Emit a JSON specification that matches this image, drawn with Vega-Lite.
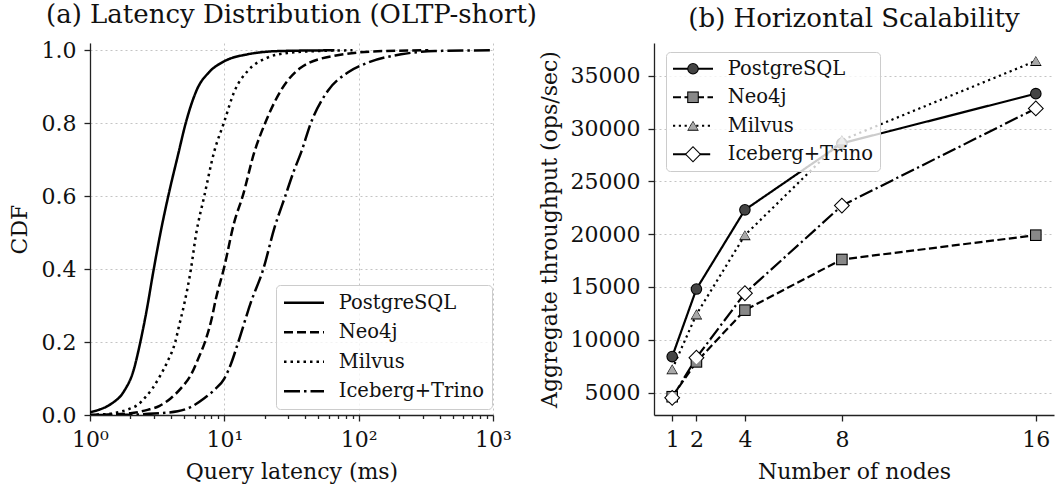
{
  "$schema": "https://vega.github.io/schema/vega-lite/v6.json",
  "padding": {"left": 8, "top": 2, "right": 5, "bottom": 5},
  "bounds": "flush",
  "spacing": 161,
  "background": "white",
  "resolve": {
    "scale": {"strokeDash": "independent", "shape": "independent", "fill": "independent"},
    "legend": {"strokeDash": "independent", "shape": "independent", "fill": "independent"}
  },
  "config": {
    "view": {"stroke": null},
    "font": "DejaVu Serif",
    "axis": {
      "labelFont": "DejaVu Serif", "titleFont": "DejaVu Serif",
      "labelFontSize": 22, "titleFontSize": 22, "titleFontWeight": "normal",
      "labelColor": "#111111", "titleColor": "#111111",
      "domainColor": "#222222", "tickColor": "#222222", "domainWidth": 1.3, "tickWidth": 1.3,
      "tickSize": 6, "labelPadding": 8,
      "gridColor": "#c4c4c4", "gridDash": [2, 3], "gridWidth": 1,
      "labelFlush": false, "labelOverlap": false
    },
    "title": {"font": "DejaVu Serif", "fontSize": 26, "fontWeight": "normal", "color": "#111111", "baseline": "alphabetic", "offset": 11, "anchor": "middle", "frame": "group"},
    "legend": {"labelFont": "DejaVu Serif", "labelFontSize": 19.5, "labelColor": "#111111"}
  },
  "hconcat": [
    {
      "width": 403,
      "height": 372,
      "title": "(a) Latency Distribution (OLTP-short)",
      "data": {"values": [
        {"system": "PostgreSQL", "latency": 1.0, "cdf": 0.008},
        {"system": "PostgreSQL", "latency": 1.2, "cdf": 0.016},
        {"system": "PostgreSQL", "latency": 1.43, "cdf": 0.03},
        {"system": "PostgreSQL", "latency": 1.79, "cdf": 0.065},
        {"system": "PostgreSQL", "latency": 2.1, "cdf": 0.12},
        {"system": "PostgreSQL", "latency": 2.37, "cdf": 0.2},
        {"system": "PostgreSQL", "latency": 2.65, "cdf": 0.29},
        {"system": "PostgreSQL", "latency": 2.95, "cdf": 0.39},
        {"system": "PostgreSQL", "latency": 3.35, "cdf": 0.5},
        {"system": "PostgreSQL", "latency": 3.85, "cdf": 0.605},
        {"system": "PostgreSQL", "latency": 4.5, "cdf": 0.71},
        {"system": "PostgreSQL", "latency": 5.2, "cdf": 0.805},
        {"system": "PostgreSQL", "latency": 6.3, "cdf": 0.895},
        {"system": "PostgreSQL", "latency": 7.7, "cdf": 0.94},
        {"system": "PostgreSQL", "latency": 10, "cdf": 0.97},
        {"system": "PostgreSQL", "latency": 14.9, "cdf": 0.989},
        {"system": "PostgreSQL", "latency": 26, "cdf": 0.998},
        {"system": "PostgreSQL", "latency": 66, "cdf": 1.0},
        {"system": "Neo4j", "latency": 1.0, "cdf": 0.0},
        {"system": "Neo4j", "latency": 2.0, "cdf": 0.005},
        {"system": "Neo4j", "latency": 2.68, "cdf": 0.014},
        {"system": "Neo4j", "latency": 3.3, "cdf": 0.025},
        {"system": "Neo4j", "latency": 4.0, "cdf": 0.046},
        {"system": "Neo4j", "latency": 4.8, "cdf": 0.075},
        {"system": "Neo4j", "latency": 5.64, "cdf": 0.11},
        {"system": "Neo4j", "latency": 6.4, "cdf": 0.155},
        {"system": "Neo4j", "latency": 7.17, "cdf": 0.2},
        {"system": "Neo4j", "latency": 8.0, "cdf": 0.26},
        {"system": "Neo4j", "latency": 8.67, "cdf": 0.32},
        {"system": "Neo4j", "latency": 9.9, "cdf": 0.4},
        {"system": "Neo4j", "latency": 11.9, "cdf": 0.531},
        {"system": "Neo4j", "latency": 13.7, "cdf": 0.6},
        {"system": "Neo4j", "latency": 16.7, "cdf": 0.72},
        {"system": "Neo4j", "latency": 20.1, "cdf": 0.8},
        {"system": "Neo4j", "latency": 26.4, "cdf": 0.89},
        {"system": "Neo4j", "latency": 37, "cdf": 0.952},
        {"system": "Neo4j", "latency": 66, "cdf": 0.985},
        {"system": "Neo4j", "latency": 155, "cdf": 0.998},
        {"system": "Neo4j", "latency": 330, "cdf": 1.0},
        {"system": "Milvus", "latency": 1.0, "cdf": 0.0},
        {"system": "Milvus", "latency": 1.5, "cdf": 0.005},
        {"system": "Milvus", "latency": 2.0, "cdf": 0.018},
        {"system": "Milvus", "latency": 2.25, "cdf": 0.027},
        {"system": "Milvus", "latency": 2.6, "cdf": 0.05},
        {"system": "Milvus", "latency": 2.92, "cdf": 0.073},
        {"system": "Milvus", "latency": 3.3, "cdf": 0.105},
        {"system": "Milvus", "latency": 3.78, "cdf": 0.147},
        {"system": "Milvus", "latency": 4.31, "cdf": 0.2},
        {"system": "Milvus", "latency": 4.62, "cdf": 0.247},
        {"system": "Milvus", "latency": 5.0, "cdf": 0.3},
        {"system": "Milvus", "latency": 5.64, "cdf": 0.4},
        {"system": "Milvus", "latency": 6.15, "cdf": 0.494},
        {"system": "Milvus", "latency": 7.09, "cdf": 0.6},
        {"system": "Milvus", "latency": 8.42, "cdf": 0.723},
        {"system": "Milvus", "latency": 9.9, "cdf": 0.8},
        {"system": "Milvus", "latency": 11.9, "cdf": 0.888},
        {"system": "Milvus", "latency": 14.9, "cdf": 0.943},
        {"system": "Milvus", "latency": 21, "cdf": 0.98},
        {"system": "Milvus", "latency": 30, "cdf": 0.993},
        {"system": "Milvus", "latency": 50, "cdf": 0.998},
        {"system": "Milvus", "latency": 90, "cdf": 1.0},
        {"system": "Iceberg+Trino", "latency": 1.0, "cdf": 0.0},
        {"system": "Iceberg+Trino", "latency": 2.0, "cdf": 0.001},
        {"system": "Iceberg+Trino", "latency": 3.0, "cdf": 0.004},
        {"system": "Iceberg+Trino", "latency": 4.49, "cdf": 0.01},
        {"system": "Iceberg+Trino", "latency": 5.5, "cdf": 0.02},
        {"system": "Iceberg+Trino", "latency": 7.09, "cdf": 0.046},
        {"system": "Iceberg+Trino", "latency": 8.5, "cdf": 0.07},
        {"system": "Iceberg+Trino", "latency": 10, "cdf": 0.1},
        {"system": "Iceberg+Trino", "latency": 11.2, "cdf": 0.14},
        {"system": "Iceberg+Trino", "latency": 12.7, "cdf": 0.2},
        {"system": "Iceberg+Trino", "latency": 15.8, "cdf": 0.31},
        {"system": "Iceberg+Trino", "latency": 19.5, "cdf": 0.4},
        {"system": "Iceberg+Trino", "latency": 23.6, "cdf": 0.513},
        {"system": "Iceberg+Trino", "latency": 28.4, "cdf": 0.6},
        {"system": "Iceberg+Trino", "latency": 33, "cdf": 0.67},
        {"system": "Iceberg+Trino", "latency": 37.3, "cdf": 0.72},
        {"system": "Iceberg+Trino", "latency": 44, "cdf": 0.8},
        {"system": "Iceberg+Trino", "latency": 59, "cdf": 0.889},
        {"system": "Iceberg+Trino", "latency": 83, "cdf": 0.939},
        {"system": "Iceberg+Trino", "latency": 117, "cdf": 0.966},
        {"system": "Iceberg+Trino", "latency": 207, "cdf": 0.989},
        {"system": "Iceberg+Trino", "latency": 370, "cdf": 0.998},
        {"system": "Iceberg+Trino", "latency": 1000, "cdf": 1.0}
      ]},
      "mark": {"type": "line", "strokeWidth": 2.5, "color": "black", "interpolate": "monotone", "clip": true},
      "encoding": {
        "x": {
          "field": "latency", "type": "quantitative",
          "scale": {"type": "log", "domain": [1, 1000], "nice": false},
          "axis": {
            "title": "Query latency (ms)",
            "values": [1,2,3,4,5,6,7,8,9,10,20,30,40,50,60,70,80,90,100,200,300,400,500,600,700,800,900,1000],
            "labelExpr": "datum.value == 1 ? '10⁰' : datum.value == 10 ? '10¹' : datum.value == 100 ? '10²' : datum.value == 1000 ? '10³' : ''",
            "tickSize": {"condition": {"test": "datum.value == 1 || datum.value == 10 || datum.value == 100 || datum.value == 1000", "value": 6}, "value": 3.5},
            "grid": true,
            "gridOpacity": {"condition": {"test": "datum.value == 1 || datum.value == 10 || datum.value == 100 || datum.value == 1000", "value": 1}, "value": 0},
            "titlePadding": 11
          }
        },
        "y": {
          "field": "cdf", "type": "quantitative",
          "scale": {"domain": [0, 1.02], "nice": false, "zero": false},
          "axis": {"title": "CDF", "values": [0, 0.2, 0.4, 0.6, 0.8, 1.0], "format": ".1f", "grid": true, "titlePadding": 10}
        },
        "strokeDash": {
          "field": "system", "type": "nominal",
          "scale": {"domain": ["PostgreSQL", "Neo4j", "Milvus", "Iceberg+Trino"], "range": [[1, 0], [9, 4], [2.5, 4], [16, 4, 2.5, 4]]},
          "legend": {
            "title": null, "orient": "none", "legendX": 186, "legendY": 242,
            "symbolType": "M-4,0L4,0", "symbolSize": 100, "symbolStrokeWidth": 2.5, "symbolStrokeColor": "black",
            "symbolOffset": 10.25, "labelOffset": 25, "rowPadding": 8.5, "padding": 8,
            "fillColor": "rgba(255,255,255,0.8)", "strokeColor": "#cccccc", "cornerRadius": 4
          }
        }
      }
    },
    {
      "width": 400,
      "height": 372,
      "title": "(b) Horizontal Scalability",
      "resolve": {
        "scale": {"shape": "independent", "fill": "independent"},
        "legend": {"shape": "independent", "fill": "independent"}
      },
      "data": {"values": [
        {"system": "PostgreSQL", "nodes": 1, "throughput": 8400},
        {"system": "PostgreSQL", "nodes": 2, "throughput": 14800},
        {"system": "PostgreSQL", "nodes": 4, "throughput": 22300},
        {"system": "PostgreSQL", "nodes": 8, "throughput": 28600},
        {"system": "PostgreSQL", "nodes": 16, "throughput": 33300},
        {"system": "Neo4j", "nodes": 1, "throughput": 4600},
        {"system": "Neo4j", "nodes": 2, "throughput": 7900},
        {"system": "Neo4j", "nodes": 4, "throughput": 12800},
        {"system": "Neo4j", "nodes": 8, "throughput": 17600},
        {"system": "Neo4j", "nodes": 16, "throughput": 19900},
        {"system": "Milvus", "nodes": 1, "throughput": 7200},
        {"system": "Milvus", "nodes": 2, "throughput": 12400},
        {"system": "Milvus", "nodes": 4, "throughput": 19900},
        {"system": "Milvus", "nodes": 8, "throughput": 28900},
        {"system": "Milvus", "nodes": 16, "throughput": 36400},
        {"system": "Iceberg+Trino", "nodes": 1, "throughput": 4500},
        {"system": "Iceberg+Trino", "nodes": 2, "throughput": 8300},
        {"system": "Iceberg+Trino", "nodes": 4, "throughput": 14400},
        {"system": "Iceberg+Trino", "nodes": 8, "throughput": 22700},
        {"system": "Iceberg+Trino", "nodes": 16, "throughput": 31900}
      ]},
      "encoding": {
        "x": {
          "field": "nodes", "type": "quantitative",
          "scale": {"domain": [0.25, 16.75], "nice": false, "zero": false},
          "axis": {"title": "Number of nodes", "values": [1, 2, 4, 8, 16], "grid": false, "titlePadding": 11}
        },
        "y": {
          "field": "throughput", "type": "quantitative",
          "scale": {"domain": [2870, 38100], "nice": false, "zero": false},
          "axis": {"title": "Aggregate throughput (ops/sec)", "values": [5000, 10000, 15000, 20000, 25000, 30000, 35000], "format": "d", "grid": true, "titlePadding": 9}
        }
      },
      "layer": [
        {
          "mark": {"type": "line", "strokeWidth": 2.2, "color": "black"},
          "encoding": {
            "strokeDash": {
              "field": "system", "type": "nominal",
              "scale": {"domain": ["PostgreSQL", "Neo4j", "Milvus", "Iceberg+Trino"], "range": [[1, 0], [8, 3.5], [2.2, 3.6], [14, 3.5, 2.2, 3.5]]},
              "legend": {
                "title": null, "orient": "none", "legendX": 12, "legendY": 9, "zindex": 1,
                "symbolType": "M-4,0L4,0", "symbolSize": 100, "symbolStrokeWidth": 2.2, "symbolStrokeColor": "black",
                "symbolOffset": 10.25, "labelOffset": 25, "rowPadding": 7.5, "padding": 7,
                "fillColor": "rgba(255,255,255,0.8)", "strokeColor": "#cccccc", "cornerRadius": 4
              }
            }
          }
        },
        {
          "mark": {"type": "point", "filled": true, "fill": "black", "strokeWidth": 0, "size": 135, "opacity": 1},
          "encoding": {
            "shape": {
              "field": "system", "type": "nominal", "sort": null,
              "scale": {"range": ["circle", "square", "triangle-up", "M-1.4,0L0,-1.4L1.4,0L0,1.4Z"]},
              "legend": {
                "title": null, "orient": "none", "legendX": 12, "legendY": 9, "zindex": 2,
                "symbolSize": 135, "symbolStrokeWidth": 0, "symbolFillColor": "black",
                "symbolOffset": 10.25, "labelOffset": 25, "rowPadding": 7.5, "padding": 7, "labelOpacity": 0
              }
            }
          }
        },
        {
          "mark": {"type": "point", "filled": true, "strokeWidth": 0, "size": 90, "opacity": 1},
          "encoding": {
            "shape": {
              "field": "system", "type": "nominal", "sort": null,
              "scale": {"range": ["circle", "square", "triangle-up", "M-1.4,0L0,-1.4L1.4,0L0,1.4Z"]},
              "legend": {
                "title": null, "orient": "none", "legendX": 12, "legendY": 9, "zindex": 3,
                "symbolSize": 90, "symbolStrokeWidth": 0,
                "symbolOffset": 10.25, "labelOffset": 25, "rowPadding": 7.5, "padding": 7, "labelOpacity": 0
              }
            },
            "fill": {
              "field": "system", "type": "nominal", "sort": null,
              "scale": {"range": ["#444444", "#888888", "#a8a8a8", "#ffffff"]},
              "legend": {
                "title": null, "orient": "none", "legendX": 12, "legendY": 9, "zindex": 3,
                "symbolSize": 90, "symbolStrokeWidth": 0,
                "symbolOffset": 10.25, "labelOffset": 25, "rowPadding": 7.5, "padding": 7, "labelOpacity": 0
              }
            }
          }
        }
      ]
    }
  ]
}
